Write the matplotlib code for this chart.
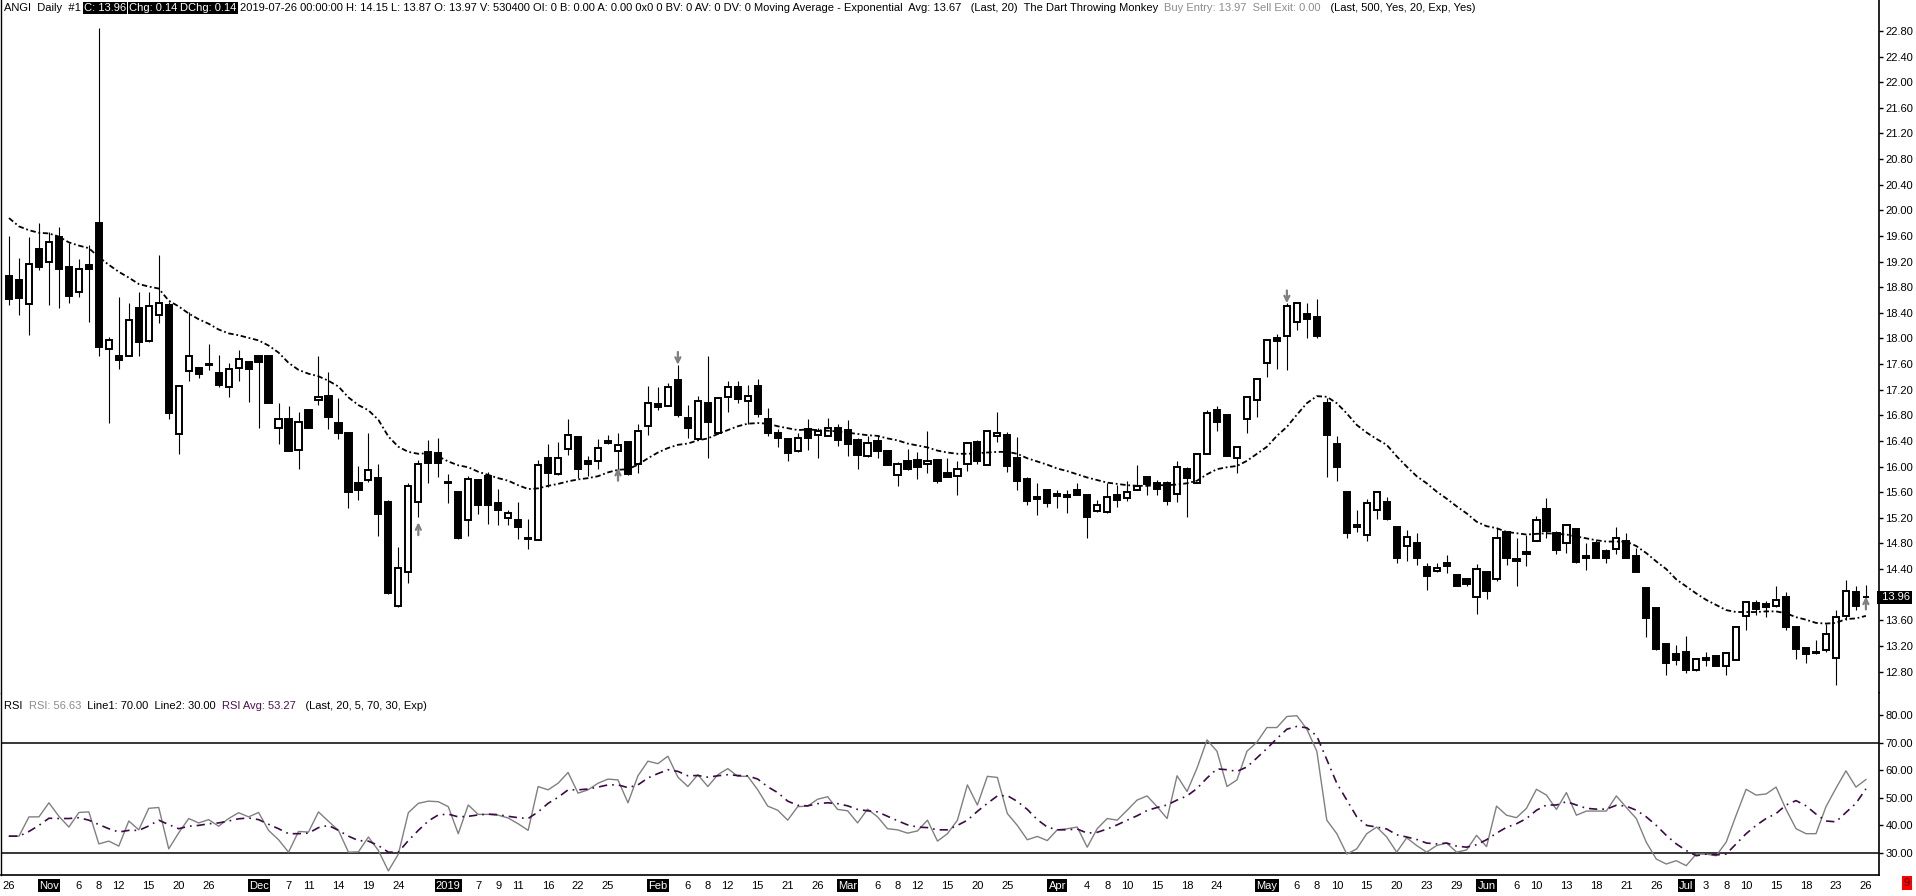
import numpy as np
import pandas as pd
import matplotlib
matplotlib.use('Agg')
import matplotlib.pyplot as plt
import matplotlib.transforms as mtransforms

plt.rcParams['font.family'] = ['Liberation Sans', 'DejaVu Sans']

# ---- data (ANGI daily, 2018-10-26 .. 2019-07-26) ----
holidays = ['2018-11-22', '2018-12-05', '2018-12-25', '2019-01-01', '2019-01-21',
            '2019-02-18', '2019-04-19', '2019-05-27', '2019-07-04']

opens = [18.97, 18.92, 18.54, 19.40, 19.19, 19.58, 19.12, 18.72, 19.14, 19.80,
         17.84, 17.72, 17.73, 18.47, 17.96, 18.37, 18.53, 16.51, 17.49, 17.54,
         17.60, 17.46, 17.24, 17.54, 17.63, 17.72, 17.73, 16.61, 16.75, 16.26,
         16.89, 17.04, 17.11, 16.68, 16.53, 15.74, 15.79, 15.82, 15.45, 13.83,
         14.35, 15.45, 16.23, 16.22, 15.76, 15.61, 15.16, 15.79, 15.85, 15.43,
         15.20, 15.17, 14.89, 14.85, 16.13, 15.88, 16.27, 16.46, 16.08, 16.08,
         16.40, 16.24, 16.39, 16.04, 16.63, 16.97, 16.95, 17.35, 16.76, 16.43,
         17.00, 16.53, 17.08, 17.24, 17.02, 17.26, 16.74, 16.52, 16.43, 16.24,
         16.59, 16.49, 16.48, 16.61, 16.57, 16.42, 16.17, 16.40, 16.25, 15.87,
         16.08, 16.11, 16.04, 16.10, 15.90, 15.85, 16.04, 16.38, 16.03, 16.47,
         16.49, 16.13, 15.80, 15.53, 15.63, 15.57, 15.55, 15.63, 15.55, 15.30,
         15.29, 15.55, 15.51, 15.63, 15.84, 15.74, 15.75, 15.57, 15.96, 15.75,
         16.20, 16.88, 16.80, 16.13, 16.75, 17.04, 17.62, 18.00, 18.04, 18.26,
         18.39, 18.33, 16.99, 16.36, 15.60, 15.05, 14.93, 15.33, 15.44, 15.05,
         14.76, 14.80, 14.43, 14.37, 14.50, 14.31, 14.24, 13.96, 14.35, 14.25,
         14.98, 14.56, 14.67, 14.84, 15.34, 14.97, 14.81, 15.02, 14.61, 14.81,
         14.69, 14.71, 14.84, 14.60, 14.10, 13.79, 13.23, 13.07, 13.11, 12.82,
         13.02, 13.05, 12.88, 12.98, 13.67, 13.87, 13.86, 13.82, 13.96, 13.49,
         13.17, 13.09, 13.13, 13.02, 13.67, 14.05, 13.97]

highs = [19.60, 19.25, 19.58, 19.81, 19.67, 19.74, 19.49, 19.24, 19.46, 22.85,
         18.03, 18.64, 18.55, 18.72, 18.72, 19.30, 18.57, 17.27, 18.42, 17.56,
         17.92, 17.74, 17.61, 17.82, 17.64, 17.73, 17.74, 17.00, 16.94, 16.86,
         16.89, 17.73, 17.47, 17.07, 16.53, 16.01, 16.52, 16.04, 15.48, 14.75,
         15.74, 16.10, 16.41, 16.44, 15.88, 15.61, 15.85, 15.79, 15.91, 15.65,
         15.32, 15.44, 15.18, 16.10, 16.35, 16.39, 16.75, 16.46, 16.17, 16.43,
         16.49, 16.53, 16.39, 16.67, 17.26, 17.24, 17.30, 17.59, 16.96, 17.10,
         17.73, 17.09, 17.33, 17.34, 17.28, 17.37, 16.91, 16.58, 16.44, 16.52,
         16.74, 16.60, 16.76, 16.67, 16.72, 16.44, 16.47, 16.50, 16.26, 16.07,
         16.27, 16.23, 16.56, 16.10, 16.13, 16.09, 16.39, 16.42, 16.57, 16.85,
         16.54, 16.46, 15.84, 15.75, 15.63, 15.63, 15.63, 15.75, 15.55, 15.48,
         15.74, 15.72, 15.78, 16.03, 15.85, 15.79, 15.78, 16.08, 16.00, 16.21,
         16.88, 16.95, 16.80, 16.31, 17.08, 17.38, 17.98, 18.07, 18.55, 18.56,
         18.56, 18.62, 17.07, 16.47, 15.60, 15.32, 15.49, 15.61, 15.53, 15.06,
         15.01, 14.97, 14.50, 14.49, 14.62, 14.31, 14.24, 14.48, 14.37, 15.04,
         14.99, 14.88, 14.93, 15.23, 15.51, 14.99, 15.11, 15.04, 14.80, 14.85,
         14.71, 15.06, 14.96, 14.73, 14.10, 13.80, 13.24, 13.22, 13.36, 13.02,
         13.11, 13.06, 13.10, 13.49, 13.90, 13.92, 13.90, 14.14, 14.05, 13.50,
         13.19, 13.30, 13.54, 13.76, 14.23, 14.14, 14.15]

lows = [18.53, 18.36, 18.05, 19.07, 18.52, 18.47, 18.55, 18.64, 18.26, 17.72,
        16.68, 17.52, 17.72, 17.72, 17.95, 18.24, 16.74, 16.19, 17.34, 17.38,
        17.51, 17.24, 17.09, 17.34, 17.01, 16.60, 17.00, 16.36, 16.24, 15.96,
        16.60, 16.96, 16.58, 16.43, 15.35, 15.48, 15.76, 14.92, 14.01, 13.81,
        14.18, 15.22, 15.75, 15.83, 15.43, 14.87, 14.91, 15.26, 15.10, 15.09,
        15.09, 14.87, 14.72, 14.85, 15.68, 15.87, 16.18, 15.82, 15.86, 15.97,
        16.35, 15.82, 15.87, 15.90, 16.50, 16.88, 16.94, 16.77, 16.44, 16.42,
        16.14, 16.51, 16.86, 17.00, 16.67, 16.78, 16.47, 16.31, 16.08, 16.23,
        16.26, 16.13, 16.47, 16.32, 16.16, 15.96, 16.15, 16.13, 16.03, 15.69,
        15.95, 15.81, 15.90, 15.74, 15.83, 15.55, 15.93, 16.04, 16.02, 16.39,
        15.92, 15.63, 15.40, 15.25, 15.37, 15.35, 15.27, 15.55, 14.88, 15.29,
        15.28, 15.37, 15.47, 15.63, 15.56, 15.55, 15.40, 15.44, 15.21, 15.74,
        16.19, 16.56, 16.17, 15.90, 16.53, 16.77, 17.40, 17.53, 17.51, 18.13,
        18.00, 18.00, 15.83, 15.78, 14.89, 14.98, 14.84, 15.18, 15.17, 14.49,
        14.52, 14.46, 14.08, 14.35, 14.34, 14.13, 14.14, 13.70, 13.94, 14.22,
        14.46, 14.14, 14.45, 14.84, 14.88, 14.63, 14.65, 14.49, 14.39, 14.58,
        14.49, 14.64, 14.57, 14.36, 13.34, 13.14, 12.75, 12.90, 12.78, 12.81,
        12.89, 12.88, 12.75, 12.98, 13.45, 13.68, 13.66, 13.81, 13.45, 12.99,
        12.93, 13.08, 13.11, 12.59, 13.61, 13.76, 13.87]

closes = [18.61, 18.63, 19.16, 19.12, 19.51, 19.08, 18.67, 19.08, 19.08, 17.87,
          17.97, 17.67, 18.29, 17.95, 18.50, 18.56, 16.83, 17.26, 17.72, 17.44,
          17.59, 17.28, 17.52, 17.68, 17.52, 17.63, 17.00, 16.75, 16.25, 16.69,
          16.60, 17.09, 16.77, 16.52, 15.61, 15.64, 15.94, 15.26, 14.02, 14.42,
          15.70, 16.04, 16.06, 16.05, 15.74, 14.88, 15.80, 15.40, 15.40, 15.32,
          15.27, 15.06, 14.87, 16.03, 15.90, 16.14, 16.49, 15.96, 16.04, 16.29,
          16.37, 16.33, 15.88, 16.55, 17.00, 16.93, 17.25, 16.81, 16.61, 17.02,
          16.70, 17.07, 17.25, 17.06, 17.11, 16.82, 16.52, 16.44, 16.21, 16.45,
          16.44, 16.56, 16.61, 16.41, 16.36, 16.18, 16.37, 16.24, 16.03, 16.04,
          15.96, 15.99, 16.09, 15.78, 15.84, 15.96, 16.37, 16.09, 16.55, 16.53,
          16.01, 15.78, 15.47, 15.49, 15.43, 15.54, 15.52, 15.56, 15.21, 15.40,
          15.52, 15.48, 15.61, 15.70, 15.73, 15.65, 15.47, 16.00, 15.82, 16.20,
          16.84, 16.69, 16.17, 16.31, 17.08, 17.37, 17.97, 17.96, 18.50, 18.56,
          18.30, 18.04, 16.49, 15.99, 14.96, 15.09, 15.43, 15.61, 15.18, 14.58,
          14.90, 14.58, 14.29, 14.41, 14.45, 14.14, 14.17, 14.40, 14.06, 14.88,
          14.58, 14.53, 14.63, 15.16, 15.00, 14.70, 15.09, 14.51, 14.58, 14.58,
          14.58, 14.89, 14.58, 14.36, 13.63, 13.15, 12.93, 12.98, 12.83, 12.99,
          12.98, 12.89, 13.09, 13.49, 13.89, 13.78, 13.81, 13.92, 13.50, 13.15,
          13.08, 13.09, 13.39, 13.66, 14.06, 13.82, 13.96]

ema20 = [19.88, 19.75, 19.69, 19.65, 19.64, 19.59, 19.50, 19.45, 19.41, 19.27,
         19.15, 19.04, 18.95, 18.85, 18.81, 18.78, 18.59, 18.50, 18.39, 18.30,
         18.23, 18.14, 18.08, 18.05, 18.01, 17.97, 17.89, 17.78, 17.62, 17.51,
         17.45, 17.41, 17.34, 17.25, 17.08, 16.96, 16.88, 16.73, 16.47, 16.31,
         16.23, 16.20, 16.21, 16.16, 16.08, 16.02, 15.99, 15.92, 15.87, 15.82,
         15.78, 15.71, 15.65, 15.66, 15.70, 15.73, 15.77, 15.80, 15.82, 15.85,
         15.91, 15.95, 15.96, 16.03, 16.13, 16.22, 16.29, 16.34, 16.36, 16.41,
         16.44, 16.51, 16.57, 16.63, 16.67, 16.68, 16.67, 16.63, 16.60, 16.57,
         16.58, 16.57, 16.56, 16.55, 16.53, 16.51, 16.49, 16.48, 16.44, 16.41,
         16.36, 16.33, 16.30, 16.25, 16.22, 16.20, 16.20, 16.21, 16.22, 16.23,
         16.23, 16.20, 16.13, 16.08, 16.03, 15.97, 15.93, 15.88, 15.83, 15.79,
         15.75, 15.73, 15.71, 15.70, 15.70, 15.71, 15.71, 15.72, 15.74, 15.78,
         15.88, 15.96, 15.99, 16.01, 16.09, 16.20, 16.31, 16.48, 16.62, 16.81,
         16.99, 17.10, 17.09, 16.99, 16.83, 16.65, 16.53, 16.43, 16.34, 16.16,
         16.00, 15.85, 15.74, 15.61, 15.50, 15.38, 15.27, 15.14, 15.07, 15.04,
         14.98, 14.96, 14.94, 14.95, 14.96, 14.95, 14.94, 14.91, 14.88, 14.85,
         14.83, 14.83, 14.83, 14.76, 14.65, 14.52, 14.40, 14.24, 14.13, 14.02,
         13.92, 13.84, 13.76, 13.73, 13.73, 13.73, 13.74, 13.74, 13.71, 13.65,
         13.61, 13.56, 13.55, 13.56, 13.62, 13.63, 13.67]

rsi = [36.1, 36.1, 43.1, 43.1, 48.2, 43.3, 39.4, 44.7, 44.9, 33.3,
       34.3, 32.5, 41.6, 38.4, 46.2, 46.5, 31.5, 37.3, 42.5, 40.9,
       42.1, 39.7, 42.5, 44.6, 43.1, 44.7, 38.2, 34.8, 30.3, 37.8,
       37.6, 44.9, 41.5, 38.2, 30.3, 30.4, 35.8, 30.9, 23.5, 29.6,
       44.6, 48.0, 48.8, 48.6, 46.8, 37.0, 47.4, 44.0, 44.0, 43.7,
       42.7, 40.6, 38.2, 54.1, 52.9, 55.3, 59.2, 51.7, 52.9, 55.3,
       56.8, 56.5, 48.2, 58.0, 63.3, 62.4, 65.1, 57.5, 54.1, 58.4,
       54.1, 58.4, 60.6, 57.8, 57.8, 52.9, 47.0, 45.5, 41.9, 46.8,
       47.0, 49.5, 50.4, 45.8, 45.3, 40.9, 45.9, 43.1, 38.8, 38.4,
       37.2, 38.0, 41.9, 34.3, 37.0, 41.9, 54.7, 47.4, 57.8, 57.4,
       44.3, 40.0, 34.8, 36.0, 34.5, 38.4, 38.8, 39.4, 32.1, 38.8,
       42.5, 41.9, 45.5, 49.2, 50.7, 46.8, 42.5, 58.0, 52.3, 60.8,
       71.0, 66.9, 54.1, 56.5, 66.9, 70.2, 75.5, 75.5, 79.5, 79.8,
       74.9, 66.9, 41.9, 37.0, 29.6, 31.5, 37.0, 39.4, 35.8, 30.3,
       35.5, 32.7, 30.3, 32.7, 33.6, 30.3, 31.1, 36.4, 32.3, 47.0,
       43.7, 42.8, 46.2, 53.1, 51.0, 45.8, 51.9, 43.7, 45.2, 45.2,
       45.2, 50.7, 46.5, 42.5, 33.9, 27.8, 26.0, 27.2, 25.4, 29.6,
       29.6, 29.0, 33.9, 43.7, 53.1, 51.0, 51.4, 53.9, 45.8, 38.8,
       37.0, 37.0, 46.8, 53.5, 59.8, 53.9, 56.63]

rsi_avg = [36.1, 36.1, 37.8, 40.0, 42.6, 42.5, 42.5, 42.8, 41.9, 40.3,
           38.8, 37.6, 38.2, 38.2, 39.8, 41.9, 40.3, 38.8, 39.7, 40.0,
           40.6, 40.9, 41.6, 42.4, 42.7, 42.1, 40.4, 38.8, 37.0, 37.0,
           37.2, 39.2, 40.0, 38.2, 36.1, 34.5, 34.3, 32.7, 30.3, 30.3,
           34.5, 38.2, 41.6, 43.8, 44.1, 43.1, 43.3, 43.8, 44.1, 43.9,
           43.3, 42.8, 42.5, 44.9, 48.0, 50.2, 52.9, 52.9, 53.2, 53.9,
           54.7, 54.7, 53.7, 54.7, 57.2, 58.8, 60.2, 59.6, 58.0, 58.1,
           57.5, 58.0, 58.4, 58.1, 58.0, 56.8, 54.0, 51.9, 48.8, 47.3,
           47.1, 47.9, 48.2, 47.9, 47.1, 45.8, 45.3, 44.9, 43.3, 41.7,
           40.2, 39.4, 39.2, 38.4, 38.4, 40.0, 41.9, 45.1, 48.0, 50.7,
           50.8, 48.7, 45.8, 42.1, 39.4, 38.4, 38.4, 38.7, 37.2, 37.5,
           38.7, 40.2, 41.9, 43.5, 45.4, 46.5, 47.4, 49.2, 50.7, 53.4,
           57.2, 60.5, 60.2, 59.6, 61.2, 64.5, 67.9, 71.5, 74.9, 75.9,
           75.4, 72.4, 63.9, 55.3, 49.2, 43.1, 40.0, 39.4, 38.7, 36.6,
           35.8, 34.9, 33.6, 33.3, 33.6, 32.5, 32.1, 33.0, 34.8, 37.2,
           39.3, 40.6, 42.5, 45.5, 47.4, 47.4, 48.6, 47.4, 46.2, 45.9,
           45.9, 47.3, 47.0, 45.5, 43.1, 40.0, 36.4, 33.3, 30.9, 29.0,
           29.6, 29.3, 29.6, 33.3, 37.0, 40.0, 42.5, 44.3, 47.4, 49.0,
           47.1, 44.1, 41.6, 41.3, 44.7, 48.0, 53.27]

# strategy signals: (bar index, price)
buy_signals = [(41, 15.13), (61, 15.98), (186, 13.97)]
sell_signals = [(67, 17.59), (128, 18.55)]

date_labels = [("2018-10-26", "26"), ("2018-11-01", "Nov"), ("2018-11-06", "6"), ("2018-11-08", "8"),
               ("2018-11-12", "12"), ("2018-11-15", "15"), ("2018-11-20", "20"), ("2018-11-26", "26"),
               ("2018-12-03", "Dec"), ("2018-12-07", "7"), ("2018-12-11", "11"), ("2018-12-14", "14"),
               ("2018-12-19", "19"), ("2018-12-24", "24"), ("2019-01-02", "2019"), ("2019-01-07", "7"),
               ("2019-01-09", "9"), ("2019-01-11", "11"), ("2019-01-16", "16"), ("2019-01-22", "22"),
               ("2019-01-25", "25"), ("2019-02-01", "Feb"), ("2019-02-06", "6"), ("2019-02-08", "8"),
               ("2019-02-12", "12"), ("2019-02-15", "15"), ("2019-02-21", "21"), ("2019-02-26", "26"),
               ("2019-03-01", "Mar"), ("2019-03-06", "6"), ("2019-03-08", "8"), ("2019-03-12", "12"),
               ("2019-03-15", "15"), ("2019-03-20", "20"), ("2019-03-25", "25"), ("2019-04-01", "Apr"),
               ("2019-04-04", "4"), ("2019-04-08", "8"), ("2019-04-10", "10"), ("2019-04-15", "15"),
               ("2019-04-18", "18"), ("2019-04-24", "24"), ("2019-05-01", "May"), ("2019-05-06", "6"),
               ("2019-05-08", "8"), ("2019-05-10", "10"), ("2019-05-15", "15"), ("2019-05-20", "20"),
               ("2019-05-23", "23"), ("2019-05-29", "29"), ("2019-06-03", "Jun"), ("2019-06-06", "6"),
               ("2019-06-10", "10"), ("2019-06-13", "13"), ("2019-06-18", "18"), ("2019-06-21", "21"),
               ("2019-06-26", "26"), ("2019-07-01", "Jul"), ("2019-07-03", "3"), ("2019-07-08", "8"),
               ("2019-07-10", "10"), ("2019-07-15", "15"), ("2019-07-18", "18"), ("2019-07-23", "23"),
               ("2019-07-26", "26")]

# ---- layout ----
W, H = 1916, 896
FS = 8
fig = plt.figure(figsize=(W / 100, H / 100), dpi=100)
ax_left = 0.5 / W
ax_w = (1879 - 0.5) / W
ax = fig.add_axes([ax_left, 1 - 693 / H, ax_w, 693 / H])
ax_r = fig.add_axes([ax_left, 1 - 875 / H, ax_w, (875 - 693) / H], sharex=ax)

dates = pd.bdate_range('2018-10-26', '2019-07-26')
dates = dates[~dates.isin(pd.to_datetime(holidays))]
o, h, l, c = (np.array(v) for v in (opens, highs, lows, closes))
x = np.arange(len(c))

# candles
up = c >= o
bottom = np.minimum(o, c)
height = np.maximum(np.abs(c - o), 0.012)
ax.vlines(x, l, h, color='black', lw=0.8, zorder=2)
ax.bar(x[up], height[up], bottom=bottom[up], width=0.62, facecolor='white',
       edgecolor='black', linewidth=1.4, zorder=3)
ax.bar(x[~up], height[~up], bottom=bottom[~up], width=0.62, facecolor='black',
       edgecolor='black', linewidth=1.4, zorder=3)

# exponential moving average
ax.plot(x, ema20, color='black', lw=1.3, ls=(0, (3, 1.5, 1, 1.5)), zorder=4)

# signal arrows
arrow_kw = dict(arrowstyle='->', color='#808080', lw=1.6, shrinkA=0, shrinkB=0,
                mutation_scale=9)
for i, p in buy_signals:
    ax.annotate('', xy=(i, p), xytext=(i, p - 0.2), arrowprops=arrow_kw, zorder=5)
for i, p in sell_signals:
    ax.annotate('', xy=(i, p), xytext=(i, p + 0.2), arrowprops=arrow_kw, zorder=5)

xlim = (-0.851, 187.31)
ax.set_xlim(*xlim)
ax.set_ylim(22.8 - (693 - 31) / 64.06, 22.8 + 31 / 64.06)

last = closes[-1]
pticks = [v for v in np.arange(12.8, 22.81, 0.4) if abs(v - last) > 0.15]
ax.set_yticks(pticks)
ax.set_yticklabels([f"{v:.2f}" for v in pticks])
trans = mtransforms.blended_transform_factory(ax.transAxes, ax.transData)
ax.text(1.0, last, f" {last:.2f}", transform=trans, color='white', fontsize=FS,
        va='center', ha='left', bbox=dict(facecolor='black', edgecolor='none', pad=1.2))

# RSI panel
ax_r.plot(x, rsi, color='#808080', lw=1.0, zorder=3)
ax_r.plot(x, rsi_avg, color='#3c0a46', lw=1.2, ls=(0, (5, 3, 1, 3)), zorder=4)
ax_r.axhline(70, color='black', lw=1.1, zorder=2)
ax_r.axhline(30, color='black', lw=1.1, zorder=2)
ax_r.set_ylim(70 - (875 - 742.7) / 2.757, 70 + (742.7 - 693) / 2.757)
rticks = [30, 40, 50, 60, 70, 80]
ax_r.set_yticks(rticks)
ax_r.set_yticklabels([f"{v:.2f}" for v in rticks])

# x labels
tick_idx = [dates.get_loc(pd.Timestamp(d)) for d, _ in date_labels]
ax_r.set_xticks(tick_idx)
ax_r.set_xticklabels([s for _, s in date_labels])
for lbl, (_, s) in zip(ax_r.get_xticklabels(), date_labels):
    if not s.isdigit() or s == '2019':
        lbl.set_color('white')
        lbl.set_bbox(dict(facecolor='black', edgecolor='none', pad=1.0))

for a in (ax, ax_r):
    a.yaxis.tick_right()
    a.tick_params(axis='y', direction='out', length=3, width=1, pad=1.5,
                  labelsize=FS, colors='black')
    a.spines['left'].set_visible(True)
    a.spines['right'].set_linewidth(1.2)
    a.spines['left'].set_linewidth(1.0)
ax.tick_params(axis='x', length=0, labelbottom=False)
ax_r.tick_params(axis='x', length=0, pad=4, labelsize=FS)
ax.spines['top'].set_visible(False)
ax.spines['bottom'].set_visible(False)
ax_r.spines['top'].set_visible(False)
ax_r.spines['bottom'].set_linewidth(1.2)

# header lines
renderer = fig.canvas.get_renderer()


def text_run(pieces, x0, ypix):
    xp = x0
    for txt, col, boxed in pieces:
        kw = {}
        if boxed:
            kw['bbox'] = dict(facecolor='black', edgecolor='none', pad=1.0)
        t = fig.text(xp / W, 1 - ypix / H, txt, color=col, fontsize=FS,
                     ha='left', va='center', **kw)
        xp += t.get_window_extent(renderer).width + (3 if boxed else 0)


text_run([("ANGI  Daily  #1 ", 'black', False),
          ("C: 13.96", 'white', True),
          ("Chg: 0.14", 'white', True),
          ("DChg: 0.14", 'white', True),
          ("2019-07-26 00:00:00 H: 14.15 L: 13.87 O: 13.97 V: 530400 OI: 0 B: 0.00 A: 0.00 "
           "0x0 0 BV: 0 AV: 0 DV: 0 Moving Average - Exponential  Avg: 13.67   (Last, 20)  "
           "The Dart Throwing Monkey  ", 'black', False),
          ("Buy Entry: 13.97  Sell Exit: 0.00", '#8c8c8c', False),
          ("   (Last, 500, Yes, 20, Exp, Yes)", 'black', False)], 4, 8)

text_run([("RSI  ", 'black', False),
          ("RSI: 56.63", '#8c8c8c', False),
          ("  Line1: 70.00  Line2: 30.00  ", 'black', False),
          ("RSI Avg: 53.27", '#4b1050', False),
          ("   (Last, 20, 5, 70, 30, Exp)", 'black', False)], 4, 706)

fig.text(1907 / W, 1 - 883 / H, "9", color='#400000', fontsize=FS, ha='center', va='center',
         bbox=dict(facecolor='#ff0000', edgecolor='none', pad=1.5))

fig.savefig('out.png', dpi=100, facecolor='white')
